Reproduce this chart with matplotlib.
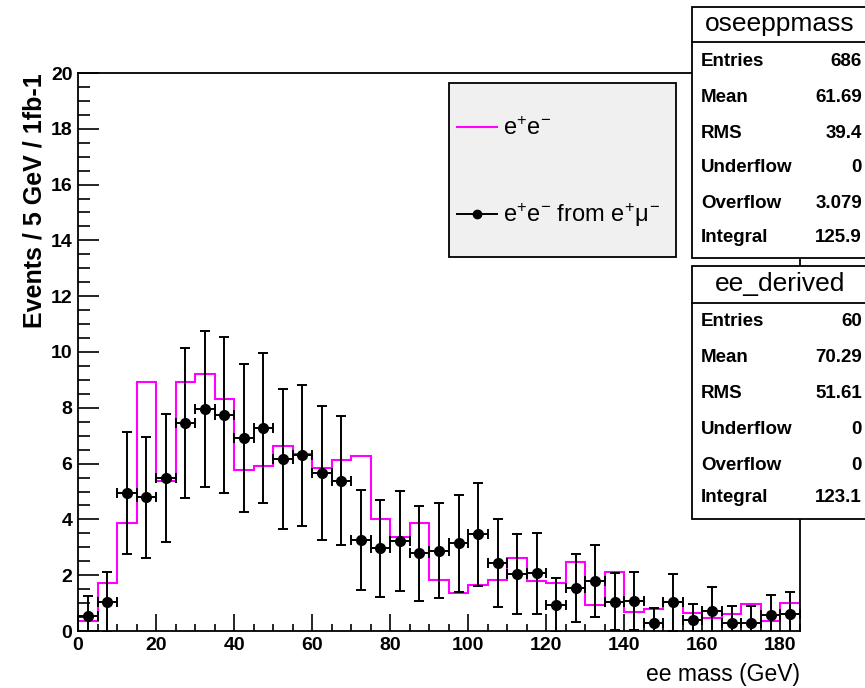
import numpy as np
import matplotlib
matplotlib.use("Agg")
import matplotlib.pyplot as plt
from matplotlib.lines import Line2D
from matplotlib.patches import Rectangle

plt.rcParams["font.family"] = ["Liberation Sans", "DejaVu Sans"]
plt.rcParams["mathtext.fontset"] = "custom"
plt.rcParams["mathtext.rm"] = "Liberation Sans"
plt.rcParams["mathtext.it"] = "Liberation Sans"

# 5 GeV bins from 0 to 185 GeV
bin_edges = np.arange(0, 190, 5)
bin_centers = bin_edges[:-1] + 2.5

# magenta histogram: e+e-
ee_values = [0.35, 1.71, 3.86, 8.92, 5.39, 8.92, 9.20, 8.30, 5.78, 5.93,
             6.62, 6.35, 5.84, 6.13, 6.28, 4.01, 3.38, 3.86, 1.83, 1.37,
             1.64, 1.84, 2.61, 1.78, 1.72, 2.48, 0.93, 2.13, 0.67, 0.80,
             1.05, 0.66, 0.48, 0.60, 0.96, 0.36, 1.02]

# black points: e+e- from e+mu-
derived_values = [0.54, 1.05, 4.95, 4.79, 5.49, 7.46, 7.95, 7.74, 6.92, 7.27,
                  6.16, 6.30, 5.66, 5.39, 3.27, 2.96, 3.23, 2.79, 2.87, 3.14,
                  3.47, 2.44, 2.04, 2.07, 0.93, 1.53, 1.80, 1.05, 1.08, 0.28,
                  1.03, 0.38, 0.72, 0.28, 0.28, 0.56, 0.62]
derived_errors = [0.70, 1.07, 2.20, 2.17, 2.30, 2.70, 2.80, 2.80, 2.66, 2.70,
                  2.50, 2.53, 2.40, 2.30, 1.80, 1.75, 1.80, 1.70, 1.70, 1.75,
                  1.85, 1.57, 1.42, 1.45, 0.96, 1.22, 1.30, 1.02, 1.05, 0.56,
                  1.03, 0.58, 0.84, 0.60, 0.60, 0.72, 0.79]

stat_labels = ["Entries", "Mean", "RMS", "Underflow", "Overflow", "Integral"]
oseeppmass_stats = ["686", "61.69", "39.4", "0", "3.079", "125.9"]
ee_derived_stats = ["60", "70.29", "51.61", "0", "0", "123.1"]

W, H = 865, 688


def fx(x):
    return x / W


def fy(y):
    return 1 - y / H


fig = plt.figure(figsize=(W / 100, H / 100), dpi=100)
ax = fig.add_axes([fx(78), fy(631), (800 - 78) / W, (631 - 73) / H])

ax.stairs(ee_values, bin_edges, color="#ff00ff", linewidth=1.5, baseline=None)
ax.errorbar(bin_centers, derived_values, yerr=derived_errors, xerr=2.5,
            fmt="o", color="black", markersize=7, elinewidth=1.4,
            capsize=3.5, capthick=1.4)

ax.set_xlim(0, 185)
ax.set_ylim(0, 20)
ax.set_xticks(np.arange(0, 181, 20))
ax.set_xticks(np.arange(0, 186, 5), minor=True)
ax.set_yticks(np.arange(0, 21, 2))
ax.set_yticks(np.arange(0, 20.1, 0.5), minor=True)
ax.tick_params(axis="both", which="both", direction="in", width=1.2,
               top=False, right=False, labelsize=14)
ax.tick_params(axis="x", which="major", length=12, pad=4)
ax.tick_params(axis="x", which="minor", length=5)
ax.tick_params(axis="y", which="major", length=15, pad=4)
ax.tick_params(axis="y", which="minor", length=8.5)
for lab in ax.get_xticklabels() + ax.get_yticklabels():
    lab.set_fontweight("bold")
for sp in ax.spines.values():
    sp.set_linewidth(1.3)

ax.set_xlabel("ee mass (GeV)", fontsize=16.5, loc="right")
ax.xaxis.set_label_coords(1.0, -0.058)
ax.set_ylabel("Events / 5 GeV / 1fb-1", fontsize=18, fontweight="bold", loc="top")
ax.yaxis.set_label_coords(-0.043, 1.0)

# legend: grey box plus frameless legend inside it
fig.add_artist(Rectangle((fx(449), fy(257)), (676 - 449) / W, (257 - 83) / H,
                         transform=fig.transFigure, facecolor="#f0f0f0",
                         edgecolor="black", linewidth=1.3, zorder=3))
handles = [Line2D([], [], color="#ff00ff", linewidth=1.5),
           Line2D([], [], color="black", marker="o", markersize=6, linewidth=1.4)]
labels = [r"e$^{+}$e$^{-}$", r"e$^{+}$e$^{-}$ from e$^{+}\mu^{-}$"]
leg = fig.legend(handles, labels, loc="upper left",
                 bbox_to_anchor=(fx(457), fy(117)),
                 fontsize=17, frameon=False, borderpad=0,
                 labelspacing=2.6, handlelength=1.7,
                 handletextpad=0.25, borderaxespad=0)
leg.set_zorder(4)


def stat_box(top, sep, bottom, title, values, rows):
    fig.add_artist(Rectangle((fx(692), fy(bottom)), (W + 10 - 692) / W,
                             (bottom - top) / H, transform=fig.transFigure,
                             facecolor="white", edgecolor="black",
                             linewidth=1.3, zorder=5))
    fig.add_artist(Line2D([fx(692), 1.01], [fy(sep), fy(sep)],
                          transform=fig.transFigure, color="black",
                          linewidth=1.3, zorder=6))
    fig.text(fx(780), fy((top + sep) / 2), title, ha="center", va="center",
             fontsize=19, zorder=7)
    for lab, val, ry in zip(stat_labels, values, rows):
        fig.text(fx(701), fy(ry), lab, ha="left", va="center",
                 fontsize=13.5, fontweight="bold", zorder=7)
        fig.text(fx(862), fy(ry), val, ha="right", va="center",
                 fontsize=13.5, fontweight="bold", zorder=7)


stat_box(7, 42, 258, "oseeppmass", oseeppmass_stats,
         [62, 98, 134, 168, 203, 238])
stat_box(266, 303, 519, "ee_derived", ee_derived_stats,
         [322, 357, 393, 430, 465, 498])

fig.savefig("out.png", dpi=100)
